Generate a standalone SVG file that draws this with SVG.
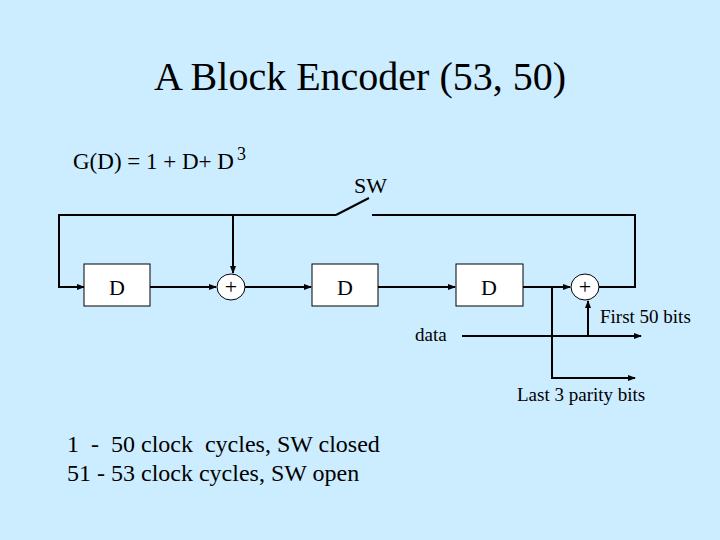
<svg xmlns="http://www.w3.org/2000/svg" width="720" height="540" viewBox="0 0 720 540">
<style>
text{font-family:"Liberation Serif","Times New Roman",serif;fill:#000}
.b{fill:#fff;stroke:#000;stroke-width:1}
.l{fill:none;stroke:#000;stroke-width:2}
</style>
<defs><marker id="a" markerWidth="8" markerHeight="8" refX="7" refY="4" orient="auto" markerUnits="userSpaceOnUse"><path d="M0,1 L8,4 L0,7Z" fill="#000"/></marker></defs>
<rect width="720" height="540" fill="#CCECFF"/>
<text x="360" y="90" font-size="40" text-anchor="middle">A Block Encoder (53, 50)</text>
<text x="73" y="169" font-size="23" xml:space="preserve">G(D) = 1 + D+ D<tspan font-size="18" dx="3" dy="-9">3</tspan></text>
<text x="354" y="193" font-size="22">SW</text>
<g id="connectors">
<path class="l" d="M336,215 H59 V287 H84" marker-end="url(#a)"/>
<path class="l" d="M336,215 L369,198"/>
<path class="l" d="M372,215 H635 V287 H599"/>
<path class="l" d="M233,215 V273" marker-end="url(#a)"/>
<path class="l" d="M150,287 H216" marker-end="url(#a)"/>
<path class="l" d="M245,287 H311" marker-end="url(#a)"/>
<path class="l" d="M378,287 H455" marker-end="url(#a)"/>
<path class="l" d="M523,287 H570" marker-end="url(#a)"/>
<path class="l" d="M552,287 V378 H635" marker-end="url(#a)"/>
<path class="l" d="M462,336 H641" marker-end="url(#a)"/>
<path class="l" d="M588,336 V301" marker-end="url(#a)"/>
</g>
<g id="d1"><rect class="b" x="84" y="264" width="66" height="42"/><text x="117" y="295" font-size="22" text-anchor="middle">D</text></g>
<g id="add1"><ellipse class="b" cx="231" cy="287" rx="14" ry="13"/><text x="231" y="294" font-size="22" text-anchor="middle">+</text></g>
<g id="d2"><rect class="b" x="312" y="264" width="66" height="42"/><text x="345" y="295" font-size="22" text-anchor="middle">D</text></g>
<g id="d3"><rect class="b" x="456" y="264" width="67" height="42"/><text x="489" y="295" font-size="22" text-anchor="middle">D</text></g>
<g id="add2"><ellipse class="b" cx="585" cy="287" rx="14" ry="13"/><text x="585" y="294" font-size="22" text-anchor="middle">+</text></g>
<text x="415" y="341" font-size="19">data</text>
<text x="600" y="323" font-size="19">First 50 bits</text>
<text x="517" y="401" font-size="19">Last 3 parity bits</text>
<text x="67" y="452" font-size="24" xml:space="preserve">1  -  50 clock  cycles, SW closed</text>
<text x="67" y="481" font-size="24">51 - 53 clock cycles, SW open</text>
</svg>
